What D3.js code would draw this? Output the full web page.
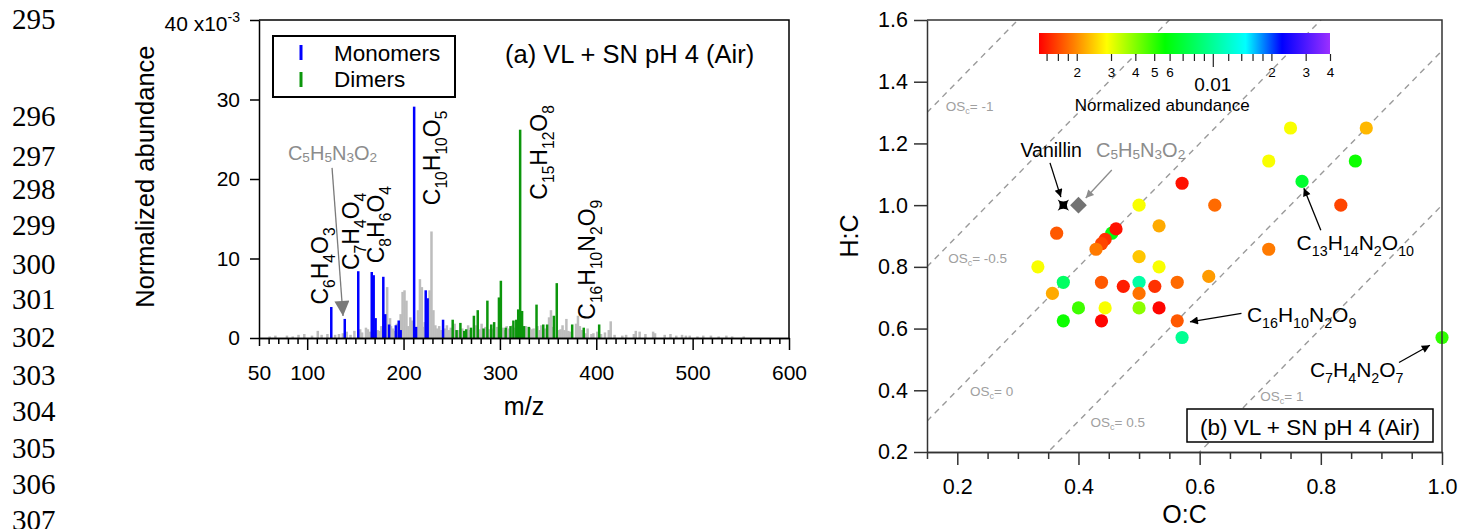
<!DOCTYPE html>
<html>
<head>
<meta charset="utf-8">
<script src="https://cdn.jsdelivr.net/npm/d3@7"></script>
<style>
body { margin: 0; background: #fff; }
svg { display: block; font-family: "Liberation Sans", Arial, sans-serif; }
</style>
</head>
<body>
<svg id="fig" width="1460" height="529"></svg>
<script>
// ---------- data ----------
var lineNumbers = ["295","296","297","298","299","300","301","302","303","304","305","306","307"];

// panel (a): [m/z, normalized abundance x1e-3]
var monomers = [[125,3.9],[139,2.4],[153,8.4],[167,8.3],[169,7.9],[171,2.5],[179,7.7],[181,3.0],[185,1.7],
	[192,1.6],[195,2.2],[197,1.0],[211,29.1],[213,1.4],[223,6.0],[225,5.0],[241,2.3]];
var dimers = [[251,2.3],[255,1.0],[259,1.9],[263,0.9],[265,1.1],[270,1.3],[273,2.8],[277,3.5],[283,1.2],
	[287,4.7],[291,1.7],[294,2.0],[299,5.1],[301,7.2],[306,1.3],[311,1.5],[314,2.2],[317,2.3],[319,3.6],
	[321,26.2],[323,3.4],[325,1.5],[330,1.4],[338,4.2],[345,1.7],[349,1.7],[356,2.8],[359,6.9],[375,1.7],
	[387,1.3],[403,1.7]];
var others = [[61,0.2],[67,0.3],[79,0.3],[85,0.2],[91,0.4],[97,0.5],[105,0.3],[111,0.9],[115,0.4],[121,0.5],
	[129,0.4],[133,0.5],[137,0.6],[141,0.8],[145,0.4],[149,0.9],[155,1.1],[157,0.7],[161,1.3],[163,1.1],
	[165,0.8],[173,1.0],[175,0.9],[177,1.5],[183,6.4],[186,2.5],[187,1.5],[189,1.2],[191,0.9],[193,1.8],
	[197,3.0],[199,5.8],[201,6.0],[203,4.7],[205,1.5],[207,2.6],[209,2.2],[215,3.5],[217,7.4],[219,6.4],
	[221,1.4],[222,2.0],[227,6.0],[229,13.4],[231,3.5],[233,1.6],[235,1.2],[237,1.5],[239,1.0],[243,1.2],
	[245,1.6],[247,1.0],[249,1.3],[253,1.8],[257,1.0],[261,1.2],[267,1.6],[269,1.0],[275,1.6],[279,1.1],
	[281,1.8],[285,1.4],[289,1.1],[293,1.2],[297,1.4],[303,1.3],[305,1.0],[307,1.5],[309,1.2],[313,1.6],
	[315,1.3],[327,1.5],[331,1.3],[333,1.1],[335,1.2],[339,1.5],[341,1.0],[343,1.6],[347,1.2],[351,2.6],
	[353,3.5],[355,1.4],[361,1.0],[363,1.1],[365,1.6],[367,1.0],[369,2.4],[371,0.9],[373,0.8],[379,1.8],
	[381,2.8],[383,1.5],[385,1.0],[389,0.6],[391,1.2],[395,0.5],[397,0.6],[401,0.8],[405,0.5],[409,0.7],
	[413,1.0],[415,2.1],[419,0.4],[427,0.3],[431,0.4],[439,0.5],[441,0.9],[445,0.8],[451,0.5],[459,0.8],
	[461,0.6],[471,0.4],[477,0.5],[483,0.3],[489,0.4],[493,0.3],[497,0.3],[505,0.2],[511,0.3],[519,0.3],
	[527,0.2],[535,0.3],[541,0.2],[553,0.2]];
var spectrumLabels = [
	{name: "C6H4O3", mz: 121.6, v: 4.2},
	{name: "C7H4O4", mz: 153.8, v: 8.55},
	{name: "C8H6O4", mz: 180.2, v: 9.4},
	{name: "C10H10O5", mz: 237.8, v: 16.7},
	{name: "C15H12O8", mz: 348.9, v: 17.4},
	{name: "C16H10N2O9", mz: 398.7, v: 2.3}
];
var mzTicks = [50,100,200,300,400,500,600];
var abundTicks = [0,10,20,30,40];

// panel (b): van Krevelen points
var vkOC    = [0.571,0.625,0.5,0.533,0.364,0.455,0.462,0.444,0.438,0.429,0.5,0.533,0.333,0.615,0.375,0.438,
	0.5,0.474,0.526,0.563,0.357,0.5,0.4,0.444,0.5,0.533,0.375,0.438,0.563,0.571,0.75,0.875,0.714,0.857,
	0.769,0.833,0.714,1.0];
var vkHC    = [1.071,1.0,1.0,0.933,0.909,0.909,0.923,0.889,0.875,0.857,0.833,0.8,0.8,0.769,0.75,0.75,
	0.75,0.737,0.737,0.75,0.714,0.714,0.667,0.667,0.667,0.667,0.625,0.625,0.625,0.571,1.25,1.25,1.143,1.143,
	1.077,1.0,0.857,0.571];
var vkAbund = [0.00135,0.0018,0.0029,0.0022,0.0017,0.006,0.00135,0.0015,0.0016,0.0019,0.0024,0.0029,0.0029,0.0021,0.0082,0.0017,
	0.0105,0.0014,0.0015,0.0018,0.0022,0.00185,0.0048,0.0029,0.0039,0.0013,0.0055,0.0013,0.0017,0.0098,0.0029,0.0023,0.0029,0.0055,
	0.0068,0.0016,0.0019,0.005];
var osValues = [-1,-0.5,0,0.5,1];
var osLabelPos = [[0.181,1.305],[0.185,0.812],[0.221,0.381],[0.42,0.281],[0.70,0.366]];
var vanillin = [0.375,1.0];
var precursor = [0.4,1.0];
var colorDomain = [0.00128,0.04];
var colorStops = [0,0.12,0.233,0.433,0.71,0.835,1];
var colorList = ["#ff0000","#ff8000","#ffff00","#00ff00","#00ffff","#0000ff","#9b30ff"];
var cbLabelled = [0.002,0.003,0.004,0.005,0.006,0.02,0.03,0.04];
var cbMinor = [0.0014,0.0016,0.0018,0.007,0.008,0.009,0.012,0.014,0.016,0.018];
var ocTicks = [0.2,0.4,0.6,0.8,1.0];
var hcTicks = [0.2,0.4,0.6,0.8,1.0,1.2,1.4,1.6];
var vkNotes = [
	{name: "Vanillin", color: "#000", pos: [0.355,1.156], anchor: "middle", from: [0.353,1.137], to: [0.371,1.026]},
	{name: "C5H5N3O2", color: "#8c8c8c", pos: [0.429,1.156], anchor: "start", from: [0.455,1.114], to: [0.412,1.023]},
	{name: "C13H14N2O10", color: "#000", pos: [0.76,0.855], anchor: "start", from: [0.80,0.919], to: [0.772,1.055]},
	{name: "C16H10N2O9", color: "#000", pos: [0.678,0.621], anchor: "start", from: [0.669,0.649], to: [0.584,0.622]},
	{name: "C7H4N2O7", color: "#000", pos: [0.782,0.443], anchor: "start", from: [0.929,0.49], to: [0.98,0.546]}
];

// ---------- helpers ----------
var svg = d3.select("#fig");
var defs = svg.append("defs");

function formula(sel, str, size, shift){
	var parts = str.match(/[A-Z][a-z]?|\d+/g);
	var down = false;
	parts.forEach(function(p){
		var t = sel.append("tspan").text(p);
		if (/\d/.test(p)) {
			t.attr("font-size", size * 0.68).attr("dy", down ? 0 : size * shift);
			down = true;
		} else {
			t.attr("dy", down ? -size * shift : 0);
			down = false;
		}
	});
}

function arrowMarker(id, color, w, h){
	defs.append("marker")
		.attr("id", id)
		.attr("viewBox", "0 0 10 10")
		.attr("refX", 10).attr("refY", 5)
		.attr("markerUnits", "userSpaceOnUse")
		.attr("markerWidth", w).attr("markerHeight", h)
		.attr("orient", "auto")
		.append("path").attr("d", "M0,0L10,5L0,10Z").attr("fill", color);
}
arrowMarker("ahBlack", "#000", 11, 8);
arrowMarker("ahGray", "#8c8c8c", 11, 8);
arrowMarker("ahBig", "#7a7a7a", 16, 15);

// line numbers of the manuscript
var lineNumY = [29,126,166,199,235,274,309,347,385,421,458,494,530];
svg.append("g").selectAll("text").data(lineNumbers).enter().append("text")
	.attr("x", 12).attr("y", function(d, i){ return lineNumY[i]; })
	.attr("font-family", "'Liberation Serif', 'Times New Roman', serif")
	.attr("font-size", 29).text(function(d){ return d; });

// ---------- panel (a) ----------
var xMz = d3.scaleLinear().domain([50,600]).range([259,789]);
var yAb = d3.scaleLinear().domain([0,40]).range([338,20]);

var pa = svg.append("g");

function bars(data, color){
	pa.append("g").selectAll("rect").data(data).enter().append("rect")
		.attr("x", function(d){ return xMz(d[0]) - 1.25; })
		.attr("width", 2.5)
		.attr("y", function(d){ return yAb(d[1]); })
		.attr("height", function(d){ return yAb(0) - yAb(d[1]); })
		.attr("fill", color);
}
bars(others, "#bdbdbd");
bars(dimers, "#0c960c");
bars(monomers, "#0000ff");

var minorMz = d3.range(60, 600, 10).filter(function(v){ return v % 100 != 0; });
var gxa = pa.append("g").attr("transform", "translate(0," + yAb(0) + ")");
gxa.append("g").call(d3.axisBottom(xMz).tickValues(minorMz).tickSize(6).tickFormat("").tickSizeOuter(0));
gxa.append("g").call(d3.axisBottom(xMz).tickValues(mzTicks).tickSize(12).tickPadding(15).tickSizeOuter(0));
gxa.selectAll(".tick").filter(function(d){ return d == 50; }).select("line").attr("y2", 8);

var gya = pa.append("g").attr("transform", "translate(" + xMz(50) + ",0)");
gya.call(d3.axisLeft(yAb).tickValues(abundTicks).tickSize(9).tickPadding(10).tickSizeOuter(0)
	.tickFormat(function(d){ return d == 40 ? "" : d; }));
var topLab = gya.append("text").attr("x", -19).attr("y", yAb(40) + 11)
	.attr("text-anchor", "end").attr("fill", "#000").attr("font-size", 21);
topLab.append("tspan").text("40 x10");
topLab.append("tspan").attr("dy", -9).attr("font-size", 14).text("-3");

[gxa, gya].forEach(function(g){
	g.selectAll("text").attr("font-size", 21).attr("font-family", "'Liberation Sans', Arial, sans-serif").attr("fill", "#000");
	g.selectAll("line, path").attr("stroke", "#000").attr("stroke-width", 1.5);
});

// frame top/right
pa.append("path")
	.attr("d", "M" + xMz(50) + "," + yAb(40) + "H" + xMz(600) + "V" + yAb(0))
	.attr("fill", "none").attr("stroke", "#000").attr("stroke-width", 1.5);

pa.append("text").attr("x", (xMz(50) + xMz(600)) / 2).attr("y", 415)
	.attr("text-anchor", "middle").attr("font-size", 25).text("m/z");
pa.append("text").attr("transform", "translate(154," + yAb(20.3) + ") rotate(-90)")
	.attr("text-anchor", "middle").attr("font-size", 25.5).text("Normalized abundance");

// legend
pa.append("rect").attr("x", 273).attr("y", 36).attr("width", 182).attr("height", 61)
	.attr("fill", "#fff").attr("stroke", "#000").attr("stroke-width", 2);
pa.append("line").attr("x1", 301).attr("x2", 301).attr("y1", 45).attr("y2", 60).attr("stroke", "#0000ff").attr("stroke-width", 3);
pa.append("line").attr("x1", 301).attr("x2", 301).attr("y1", 72).attr("y2", 87).attr("stroke", "#0c960c").attr("stroke-width", 3);
pa.append("text").attr("x", 334).attr("y", 61).attr("font-size", 22.5).text("Monomers");
pa.append("text").attr("x", 334).attr("y", 87).attr("font-size", 22.5).text("Dimers");

pa.append("text").attr("x", 505).attr("y", 63).attr("font-size", 25.5).text("(a) VL + SN pH 4 (Air)");

// rotated formula labels
spectrumLabels.forEach(function(l){
	var t = pa.append("text")
		.attr("transform", "translate(" + xMz(l.mz) + "," + yAb(l.v) + ") rotate(-90)")
		.attr("font-size", 23);
	formula(t, l.name, 23, 0.3);
});

// gray precursor label + arrow
var gl = pa.append("text").attr("x", xMz(80)).attr("y", yAb(22.4)).attr("fill", "#8c8c8c").attr("font-size", 20);
formula(gl, "C5H5N3O2", 20, 0.12);
pa.append("line")
	.attr("x1", xMz(125.8)).attr("y1", yAb(21.4)).attr("x2", xMz(137.2)).attr("y2", yAb(2.77))
	.attr("stroke", "#7a7a7a").attr("stroke-width", 1.3).attr("marker-end", "url(#ahBig)");

// ---------- panel (b) ----------
var xOC = d3.scaleLinear().domain([0.15,1.0]).range([927,1442]);
var yHC = d3.scaleLinear().domain([0.2,1.6]).range([452,20]);
var cScale = d3.scaleLog().domain(colorDomain).range([1039,1330]);
var tScale = d3.scaleLog().domain(colorDomain).range([0,1]).clamp(true);
var rainbow = d3.scaleLinear().domain(colorStops).range(colorList);
function colorOf(a){ return rainbow(tScale(a)); }

var pb = svg.append("g");
defs.append("clipPath").attr("id", "vkclip").append("rect")
	.attr("x", xOC(0.15)).attr("y", yHC(1.6)).attr("width", xOC(1.0) - xOC(0.15)).attr("height", yHC(0.2) - yHC(1.6));

// oxidation state lines
var osLine = d3.line().x(function(d){ return xOC(d[0]); }).y(function(d){ return yHC(d[1]); });
var gos = pb.append("g").attr("clip-path", "url(#vkclip)");
osValues.forEach(function(os){
	gos.append("path")
		.attr("d", osLine([[0.15, 2 * 0.15 - os], [1.0, 2 * 1.0 - os]]))
		.attr("fill", "none").attr("stroke", "#9a9a9a").attr("stroke-width", 1.4).attr("stroke-dasharray", "6,5");
});
osValues.forEach(function(os, i){
	var t = pb.append("text").attr("x", xOC(osLabelPos[i][0])).attr("y", yHC(osLabelPos[i][1]))
		.attr("font-size", 13.5).attr("fill", "#a0a0a0");
	t.append("tspan").text("OS");
	t.append("tspan").attr("font-size", 9).attr("dy", 3).text("c");
	t.append("tspan").attr("dy", -3).text("= " + os);
});

// colorbar
var grad = defs.append("linearGradient").attr("id", "rainbow");
colorStops.forEach(function(s, i){
	grad.append("stop").attr("offset", s).attr("stop-color", colorList[i]);
});
pb.append("rect").attr("x", cScale(colorDomain[0])).attr("y", 33)
	.attr("width", cScale(colorDomain[1]) - cScale(colorDomain[0])).attr("height", 21)
	.attr("fill", "url(#rainbow)");
var gcb = pb.append("g").attr("transform", "translate(0,54)");
gcb.append("g").call(d3.axisBottom(cScale).tickValues(cbMinor).tickSize(7).tickFormat("").tickSizeOuter(0));
gcb.append("g").call(d3.axisBottom(cScale).tickValues(cbLabelled).tickSize(7).tickPadding(6).tickSizeOuter(0)
	.tickFormat(function(d){ return String(Math.round(d / Math.pow(10, Math.floor(Math.log10(d) + 1e-9)))); }));
gcb.append("g").call(d3.axisBottom(cScale).tickValues([0.01]).tickSize(13).tickFormat("").tickSizeOuter(0));
gcb.selectAll("path.domain").remove();
gcb.selectAll("line").attr("stroke", "#222").attr("stroke-width", 1.2);
gcb.selectAll("text").attr("font-size", 13.5).attr("font-family", "'Liberation Sans', Arial, sans-serif").attr("fill", "#000");
pb.append("text").attr("x", cScale(0.01)).attr("y", 91).attr("text-anchor", "middle").attr("font-size", 19).text("0.01");
pb.append("text").attr("x", cScale(0.0055)).attr("y", 111).attr("text-anchor", "middle").attr("font-size", 17).text("Normalized abundance");

// points
pb.append("g").selectAll("circle").data(vkOC).enter().append("circle")
	.attr("cx", function(d){ return xOC(d); })
	.attr("cy", function(d, i){ return yHC(vkHC[i]); })
	.attr("r", 6.6)
	.attr("fill", function(d, i){ return colorOf(vkAbund[i]); });

// vanillin and precursor markers
var star4 = { draw: function(ctx, size){
	var r = Math.sqrt(size) / 2, k = r * 0.25;
	ctx.moveTo(-r, -r);
	ctx.quadraticCurveTo(0, -k, r, -r);
	ctx.quadraticCurveTo(k, 0, r, r);
	ctx.quadraticCurveTo(0, k, -r, r);
	ctx.quadraticCurveTo(-k, 0, -r, -r);
	ctx.closePath();
} };
pb.append("path").attr("d", d3.symbol().type(star4).size(130)())
	.attr("transform", "translate(" + xOC(vanillin[0]) + "," + yHC(vanillin[1]) + ")").attr("fill", "#000");
pb.append("path").attr("d", d3.symbol().type(d3.symbolSquare).size(140)())
	.attr("transform", "translate(" + xOC(precursor[0]) + "," + yHC(precursor[1]) + ") rotate(45)").attr("fill", "#737373");

// annotations
vkNotes.forEach(function(n){
	var size = n.name == "Vanillin" ? 19.5 : (n.name == "C5H5N3O2" ? 20 : 21);
	var t = pb.append("text").attr("x", xOC(n.pos[0])).attr("y", yHC(n.pos[1]))
		.attr("text-anchor", n.anchor).attr("font-size", size).attr("fill", n.color);
	if (n.name == "Vanillin") t.text(n.name);
	else formula(t, n.name, size, n.color == "#000" ? 0.3 : 0.12);
	pb.append("line")
		.attr("x1", xOC(n.from[0])).attr("y1", yHC(n.from[1]))
		.attr("x2", xOC(n.to[0])).attr("y2", yHC(n.to[1]))
		.attr("stroke", n.color).attr("stroke-width", 1.3)
		.attr("marker-end", n.color == "#000" ? "url(#ahBlack)" : "url(#ahGray)");
});

// axes
var minorOC = d3.range(0.15, 1.0001, 0.05).filter(function(v){ return Math.abs(v * 5 - Math.round(v * 5)) > 1e-6; });
var gxb = pb.append("g").attr("transform", "translate(0," + yHC(0.2) + ")");
gxb.append("g").call(d3.axisBottom(xOC).tickValues(minorOC).tickSize(7).tickFormat("").tickSizeOuter(0));
gxb.append("g").call(d3.axisBottom(xOC).tickValues(ocTicks).tickSize(13).tickPadding(14).tickFormat(d3.format(".1f")).tickSizeOuter(0));
var gyb = pb.append("g").attr("transform", "translate(" + xOC(0.15) + ",0)");
gyb.call(d3.axisLeft(yHC).tickValues(hcTicks).tickSize(13).tickPadding(6).tickFormat(d3.format(".1f")).tickSizeOuter(0));
[gxb, gyb].forEach(function(g){
	g.selectAll("text").attr("font-size", 21.5).attr("font-family", "'Liberation Sans', Arial, sans-serif").attr("fill", "#000");
	g.selectAll("line, path").attr("stroke", "#333").attr("stroke-width", 1.5);
});
pb.append("path")
	.attr("d", "M" + xOC(0.15) + "," + yHC(1.6) + "H" + xOC(1.0) + "V" + yHC(0.2))
	.attr("fill", "none").attr("stroke", "#333").attr("stroke-width", 1.5);

pb.append("text").attr("x", (xOC(0.15) + xOC(1.0)) / 2).attr("y", 523)
	.attr("text-anchor", "middle").attr("font-size", 25).text("O:C");
pb.append("text").attr("transform", "translate(858," + yHC(0.9) + ") rotate(-90)")
	.attr("text-anchor", "middle").attr("font-size", 25).text("H:C");

// legend box (b)
pb.append("rect").attr("x", 1187).attr("y", 409).attr("width", 246).attr("height", 33)
	.attr("fill", "#fff").attr("stroke", "#000").attr("stroke-width", 1.5);
pb.append("text").attr("x", 1310).attr("y", 435).attr("text-anchor", "middle").attr("font-size", 22.5)
	.text("(b) VL + SN pH 4 (Air)");
</script>
</body>
</html>
